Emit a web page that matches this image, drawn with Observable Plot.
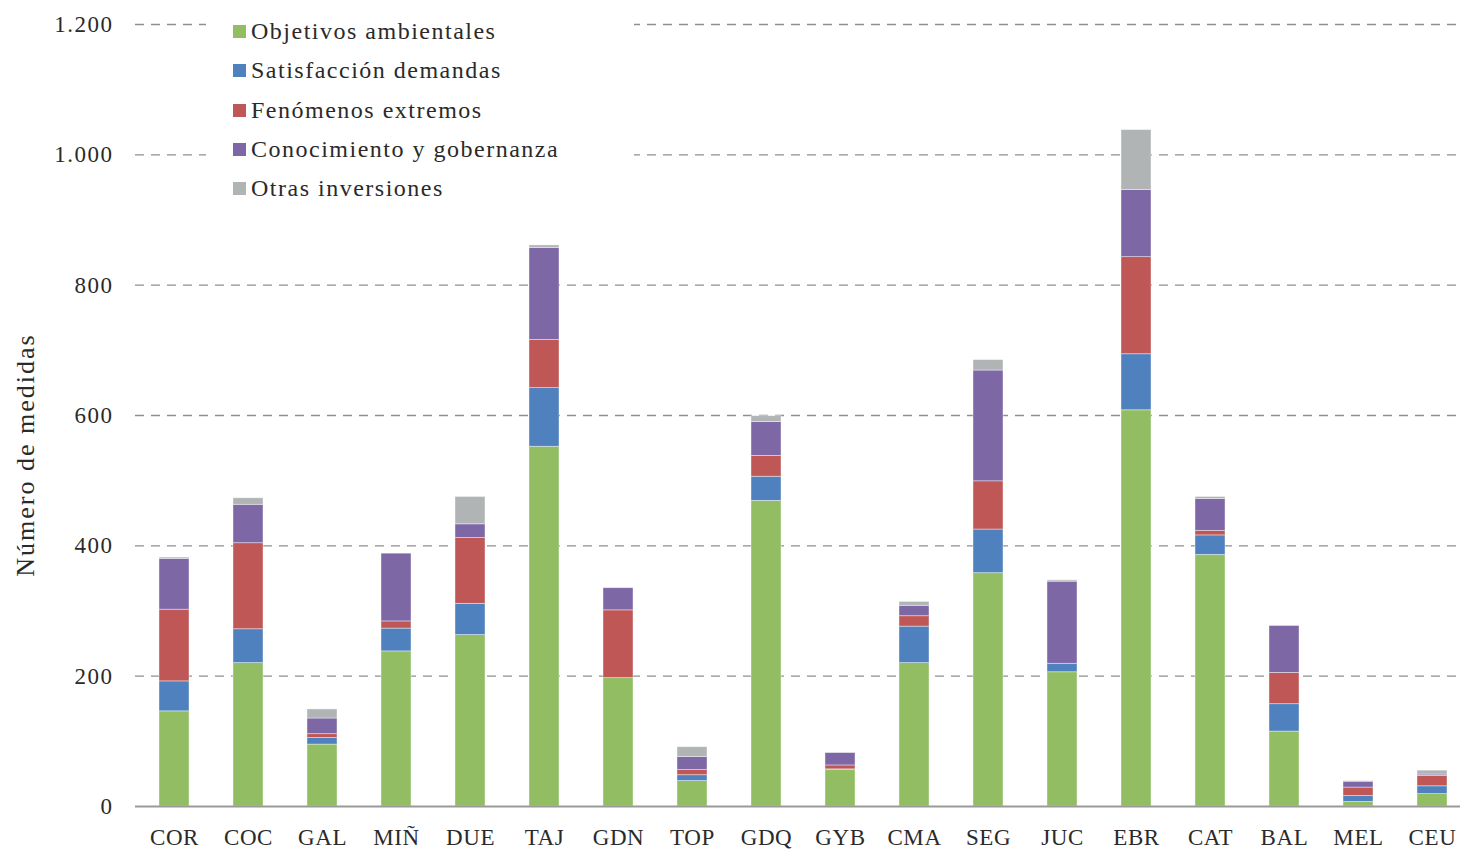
<!DOCTYPE html>
<html lang="es">
<head>
<meta charset="utf-8">
<script src="https://cdn.jsdelivr.net/npm/d3@7"></script>
<script src="https://cdn.jsdelivr.net/npm/@observablehq/plot@0.6"></script>
<style>
  html, body { margin: 0; padding: 0; background: #fff; }
  #chart { position: relative; width: 1460px; height: 849px; overflow: hidden; font-family: "Liberation Serif", serif; color: #2a2a2a; }
  #chart svg { position: absolute; left: 0; top: 0; }
  #chart svg g[aria-label="x-axis tick label"] { letter-spacing: 0.6px; }
  #legend { position: absolute; left: 206px; top: 6px; width: 428px; height: 200px; background: #fff; padding-left: 27px; padding-top: 6px; box-sizing: border-box; }
  .row { display: flex; align-items: center; height: 39.3px; font-size: 24px; letter-spacing: 1.5px; white-space: nowrap; }
  .sw { width: 13px; height: 13px; margin-right: 5px; flex: none; }
  #ytitle { position: absolute; left: 26px; top: 455px; transform: translate(-50%, -50%) rotate(-90deg); font-size: 26px; letter-spacing: 2px; white-space: nowrap; }
</style>
</head>
<body>
<div id="chart">
  <div id="ytitle">Número de medidas</div>
</div>
<script>
// Demarcaciones hidrográficas
const regions = ["COR","COC","GAL","MIÑ","DUE","TAJ","GDN","TOP","GDQ","GYB","CMA","SEG","JUC","EBR","CAT","BAL","MEL","CEU"];

// Número de medidas por tipo
const objetivosAmbientales   = [146,220, 95,238,263,552,197, 39,469, 56,220,358,206,608,386,115,  7, 19];
const satisfaccionDemandas   = [ 46, 52, 10, 35, 48, 90,  0,  9, 37,  1, 56, 67, 13, 86, 30, 42,  9, 12];
const fenomenosExtremos      = [110,132,  6, 11,101, 74,104,  8, 32,  6, 16, 74,  0,149,  7, 48, 13, 16];
const conocimientoGobernanza = [ 78, 59, 24,104, 21,141, 34, 20, 52, 19, 16,170,126,103, 49, 72,  9,  2];
const otrasInversiones       = [  2, 10, 14,  0, 42,  4,  0, 15,  9,  0,  6, 16,  2, 92,  3,  0,  1,  6];

const seriesNames = ["Objetivos ambientales","Satisfacción demandas","Fenómenos extremos","Conocimiento y gobernanza","Otras inversiones"];
const seriesColors = ["#92bd63","#4e81bd","#be5755","#7d67a5","#b1b4b5"];
const yTicks = [0,200,400,600,800,1000,1200];

const seriesValues = [objetivosAmbientales, satisfaccionDemandas, fenomenosExtremos, conocimientoGobernanza, otrasInversiones];
const rows = [];
regions.forEach((r, i) => {
  seriesNames.forEach((s, k) => rows.push({region: r, series: s, value: seriesValues[k][i]}));
});

const fmt = d => d3.format(",")(d).replace(/,/g, ".");

const chart = Plot.plot({
  width: 1460,
  height: 849,
  marginTop: 24,
  marginBottom: 43,
  marginLeft: 135,
  marginRight: -11,
  style: {fontFamily: "'Liberation Serif', serif", fontSize: "23px", color: "#2a2a2a", background: "transparent", letterSpacing: "1.5px"},
  x: {domain: regions, paddingInner: 0.6, paddingOuter: 0.3, label: null, tickSize: 0, tickPadding: 22},
  y: {domain: [0, 1200], ticks: yTicks, tickFormat: fmt, tickSize: 0, tickPadding: 22, label: null},
  color: {domain: seriesNames, range: seriesColors},
  marks: [
    Plot.ruleY(yTicks.filter(d => d > 0), {stroke: "#8e8e8e", strokeWidth: 1.3, strokeDasharray: "9,7"}),
    Plot.barY(rows, {x: "region", y: "value", fill: "series", stroke: "#ffffff", strokeOpacity: 0.5, strokeWidth: 0.8}),
    Plot.ruleY([0], {stroke: "#9a9a9a", strokeWidth: 2})
  ]
});

const host = document.getElementById("chart");
host.insertBefore(chart, host.firstChild);

// Leyenda
const legend = document.createElement("div");
legend.id = "legend";
seriesNames.forEach((s, k) => {
  const row = document.createElement("div");
  row.className = "row";
  const sw = document.createElement("span");
  sw.className = "sw";
  sw.style.background = seriesColors[k];
  const label = document.createElement("span");
  label.textContent = s;
  row.append(sw, label);
  legend.append(row);
});
host.append(legend);
</script>
</body>
</html>
